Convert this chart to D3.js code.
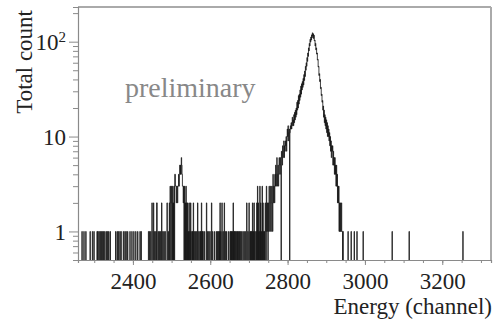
<!DOCTYPE html>
<html><head><meta charset="utf-8">
<script src="https://cdn.jsdelivr.net/npm/d3@7"></script>
<style>html,body{margin:0;padding:0;background:#fff;}svg{display:block;}</style>
</head><body>
<script>
// ---- Data ----
const xDomain = [2258, 3326];
const yDomain = [0.5, 232];
const xMajorTicks = [2400, 2600, 2800, 3000, 3200];
const yMajorTicks = [1, 10, 100];
const xLabel = "Energy (channel)";
const yLabel = "Total count";
const watermark = "preliminary";

// sparse background bins (channel, count)
const bgChannels = [2268,2273,2278,2289,2295,2299,2307,2309,2312,2315,2318,2321,2324,2327,2331,2334,2337,2341,
  2355,2359,2362,2366,2369,2375,2379,2382,2386,2392,2397,2402,2407,2412,2418,2421,
  2440,2443,2446,2449,2450,2453,2456,2459,2461,2462,2465,2468,2471,2474,2477,2480,2483,
  2488,2491,2494,2496,2497,2499,2500,2502,2504,2506,2508,2509,2510,2511,2512,2513,2514,2515,2516,2517,2518,2519,2520,
  2521,2522,2523,2524,2525,2526,2527,2528,2529,2530,2531,2533,2535,2537,2539,2541,2543,2545,2547,2549,2552,2554,2556,2558,
  2561,2564,2567,2570,2573,2575,2577,2579,2581,2585,2590,2593,2596,2599,2603,2606,2611,2616,2618,2621,2623,2625,2627,
  2630,2633,2636,2639,2642,2647,2651,2653,2655,2657,2659,2661,2663,2665,2668,2670,2672,2675,2677,2680,2684,2687,2690,
  2694,2697,2700,2703,2705,2707,2709,2711,2713,2715,2718,2720,2722,2724,2726,2728,2730,2732,2734,2736,2738];
const bgCounts = [1,1,1,1,1,1,1,1,1,1,1,1,1,1,1,1,1,1,
  1,1,1,1,1,1,1,1,1,1,1,1,1,1,1,1,
  1,1,1,2,1,2,1,1,2,2,1,1,1,2,1,1,1,
  2,1,2,3,2,3,2,3,2,3,4,4,3,3,2,3,3,2,3,3,4,3,4,
  5,4,5,4,6,5,4,3,3,2,3,3,2,3,2,2,1,2,1,2,1,1,2,1,
  1,1,2,1,1,1,2,1,1,1,2,1,1,1,2,1,1,1,1,1,1,2,1,
  2,1,2,1,1,1,1,1,1,1,2,1,1,1,1,1,1,1,1,1,1,1,1,
  2,1,2,1,1,1,2,1,2,1,1,2,3,2,1,3,2,1,3,2,1];

// dense peak bins, one per channel starting at peakStart
const peakStart = 2740;
const peakCounts = [
  1,0,2,1,0,3,1,2,1,0, 2,1,3,2,1,2,3,1,2,3,
  2,1,4,2,3,3,2,4,3,5, 3,4,6,3,4,5,3,4,6,5,
  4,6,5,0,7,6,5,8,6,7, 9,6,8,7,9,8,10,7,9,12,
  10,13,9,11,12,0,11,13,12,14,
  12,14,16,13,15,13,17,14,18,15, 19,16,20,17,23,19,24,20,27,22,
  28,24,31,26,34,28,36,31,38,33, 41,35,45,39,49,43,55,50,60,55,
  68,62,76,70,86,80,96,90,106,99, 112,104,118,110,124,115,121,108,117,102,
  104,90,96,82,86,74,76,64,65,54, 55,44,46,38,40,32,33,27,28,23,
  24,19,21,16,19,14,17,13,16,12, 15,11,14,10,13,10,12,9,11,8,
  10,7,9,6,8,7,8,5,7,5, 6,4,6,4,5,3,5,3,4,2,
  3,2,3,1,2,1,2,1,1,2, 1,1,0,1,0,0,0,0,0,0,0];

// isolated high-energy bins
const tailChannels = [2956, 2964, 2972, 2979, 2995, 3070, 3114, 3253];
const tailCounts = [1, 1, 1, 1, 1, 1, 1, 1];

// ---- Layout ----
const W = 494, H = 323;
const m = {left: 78, top: 7, right: 3, bottom: 63};
const pw = W - m.left - m.right, ph = H - m.top - m.bottom;

const svg = d3.select("body").append("svg").attr("width", W).attr("height", H);
const x = d3.scaleLinear().domain(xDomain).range([m.left, m.left + pw]);
const y = d3.scaleLog().domain(yDomain).range([m.top + ph, m.top]);

// build dense histogram
const counts = new Map();
bgChannels.forEach((c, i) => counts.set(c, bgCounts[i]));
peakCounts.forEach((v, i) => counts.set(peakStart + i, v));
tailChannels.forEach((c, i) => counts.set(c, tailCounts[i]));
const bins = d3.range(xDomain[0], xDomain[1]).map(c => ({c, n: counts.get(c) || 0}));

svg.append("clipPath").attr("id", "clip").append("rect")
  .attr("x", m.left).attr("y", m.top).attr("width", pw).attr("height", ph);

const zeroY = m.top + ph + 4;
let d = `M${x(bins[0].c)},${zeroY}`;
bins.forEach(b => {
  const yy = b.n > 0 ? y(b.n) : zeroY;
  d += `L${x(b.c)},${yy}L${x(b.c + 1)},${yy}`;
});
svg.append("path").attr("d", d).attr("clip-path", "url(#clip)")
  .attr("fill", "none").attr("stroke", "#111").attr("stroke-width", 0.8);

// frame: top and right
svg.append("line").attr("x1", m.left).attr("x2", m.left + pw).attr("y1", m.top).attr("y2", m.top)
  .attr("stroke", "#aaa").attr("stroke-width", 2);
svg.append("line").attr("x1", m.left + pw).attr("x2", m.left + pw).attr("y1", m.top).attr("y2", m.top + ph)
  .attr("stroke", "#aaa").attr("stroke-width", 2);

const axisColor = "#8a8a8a";
const font = "'Liberation Serif', 'Times New Roman', serif";

// x axis
const xMinor = d3.range(2300, 3326, 50);
const gx = svg.append("g").attr("transform", `translate(0,${m.top + ph})`);
gx.call(d3.axisBottom(x).tickValues(xMinor).tickSize(3).tickFormat(""));
gx.call(g => g.selectAll(".tick line").attr("stroke", axisColor));
gx.select(".domain").attr("stroke", axisColor).attr("stroke-width", 1.2);
const gx2 = svg.append("g").attr("transform", `translate(0,${m.top + ph})`);
gx2.call(d3.axisBottom(x).tickValues(xMajorTicks).tickSize(5).tickPadding(8).tickFormat(d3.format("d")));
gx2.select(".domain").remove();
gx2.selectAll(".tick line").attr("stroke", axisColor);
gx2.selectAll("text").attr("font-family", font).attr("font-size", 23).attr("fill", "#222");

// y axis
const yMinor = [0.5,0.6,0.7,0.8,0.9,2,3,4,5,6,7,8,9,20,30,40,50,60,70,80,90,200];
const gy = svg.append("g").attr("transform", `translate(${m.left},0)`);
gy.call(d3.axisLeft(y).tickValues(yMinor).tickSize(5).tickFormat(""));
gy.selectAll(".tick line").attr("stroke", axisColor);
gy.select(".domain").attr("stroke", axisColor).attr("stroke-width", 1.2);
const gy2 = svg.append("g").attr("transform", `translate(${m.left},0)`);
gy2.call(d3.axisLeft(y).tickValues(yMajorTicks).tickSize(9).tickPadding(4).tickFormat(""));
gy2.select(".domain").remove();
gy2.selectAll(".tick line").attr("stroke", axisColor);
gy2.selectAll(".tick").each(function(v) {
  const t = d3.select(this).append("text").attr("x", -12).attr("dy", "0.34em")
    .attr("text-anchor", "end").attr("font-family", font).attr("font-size", 23).attr("fill", "#222");
  if (v >= 100) {
    t.append("tspan").text("10");
    t.append("tspan").attr("font-size", 15).attr("dy", "-0.55em").text(String(Math.round(Math.log10(v))));
  } else {
    t.text(String(v));
  }
});

// axis titles
svg.append("text").attr("x", 492).attr("y", 314).attr("text-anchor", "end")
  .attr("font-family", font).attr("font-size", 23).attr("fill", "#222").text(xLabel);
svg.append("text").attr("transform", "translate(32,10) rotate(-90)").attr("text-anchor", "end")
  .attr("font-family", font).attr("font-size", 23).attr("fill", "#222").text(yLabel);

// watermark
svg.append("text").attr("x", 125).attr("y", 97)
  .attr("font-family", font).attr("font-size", 28).attr("fill", "#888").text(watermark);
</script>
</body></html>
